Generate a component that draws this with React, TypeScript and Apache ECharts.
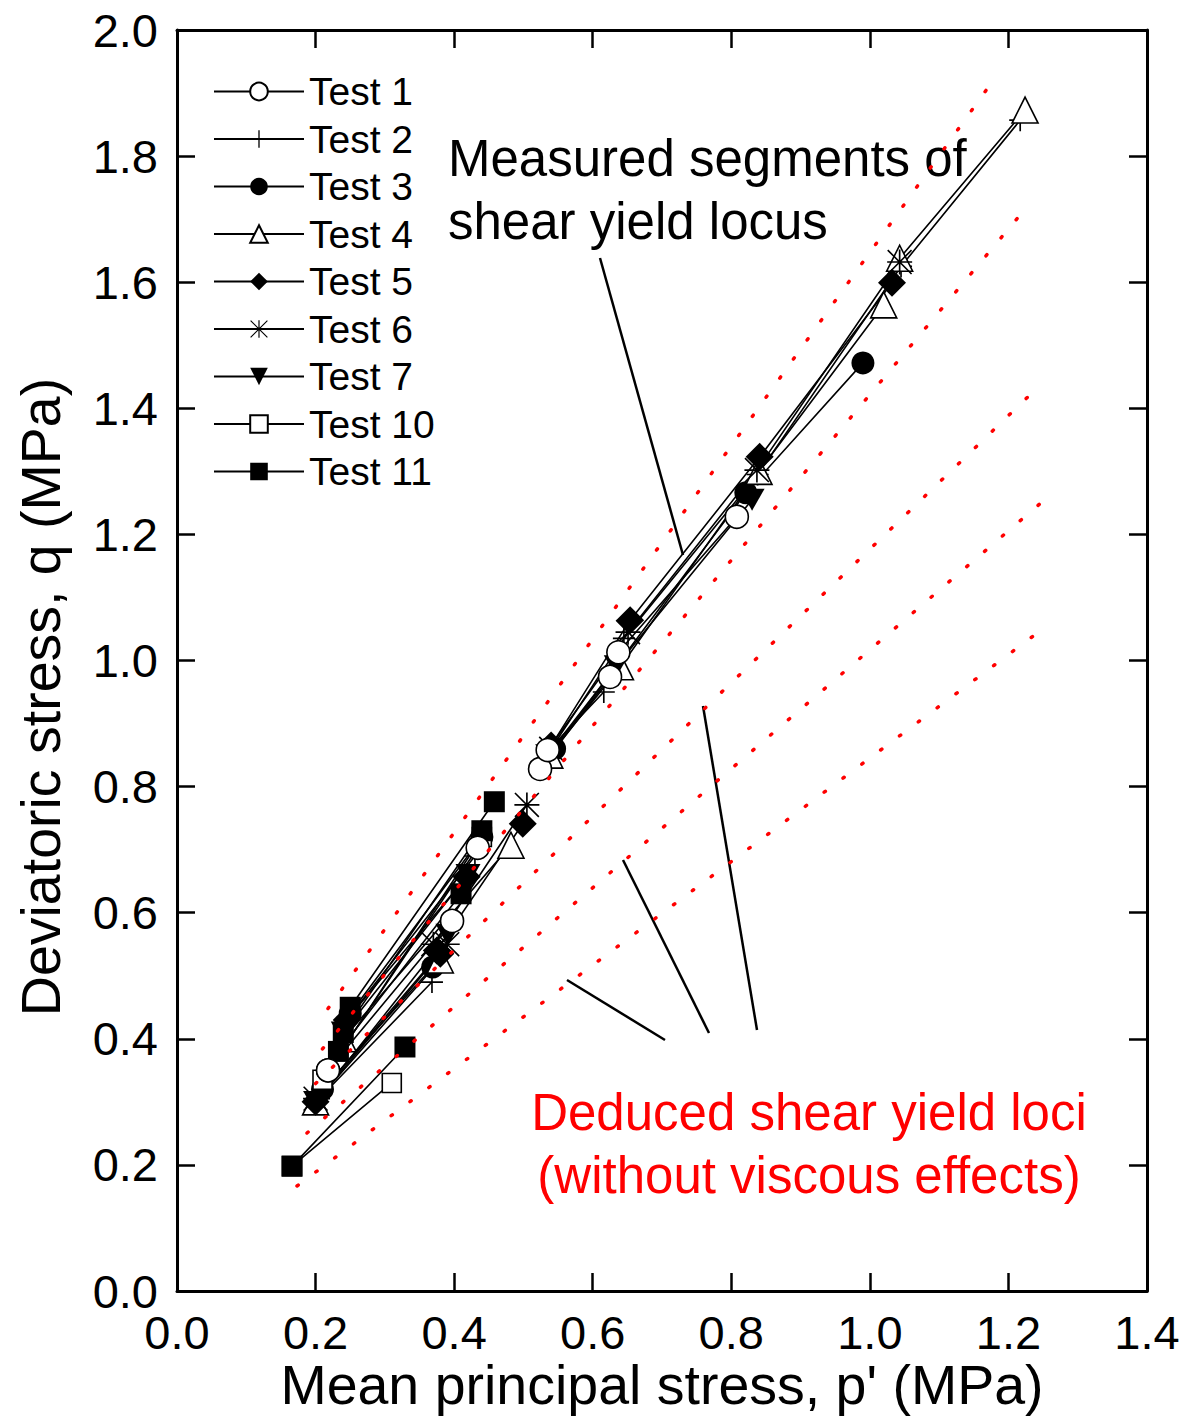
import React, { useEffect, useRef } from "react";
import * as echarts from "echarts";

// ---------- data ----------
const testNames = ["Test 1", "Test 2", "Test 3", "Test 4", "Test 5", "Test 6", "Test 7", "Test 10", "Test 11"];

// each test: list of measured segments, each segment = list of [p', q] points (MPa)
const test1 = [
  [[0.218, 0.350], [0.397, 0.587]],
  [[0.218, 0.350], [0.434, 0.703]],
  [[0.524, 0.828], [0.625, 0.974]],
  [[0.535, 0.858], [0.637, 1.013], [0.808, 1.228]],
];
const test2 = [
  [[0.205, 0.305], [0.368, 0.490]],
  [[0.245, 0.430], [0.430, 0.690]],
  [[0.534, 0.855], [0.616, 0.950]],
  [[0.645, 1.035], [0.838, 1.295], [1.045, 1.625], [1.217, 1.857]],
];
const test3 = [
  [[0.210, 0.320], [0.369, 0.514]],
  [[0.250, 0.440], [0.440, 0.720]],
  [[0.545, 0.860], [0.821, 1.266], [0.990, 1.472]],
];
const test4 = [
  [[0.200, 0.300], [0.380, 0.525]],
  [[0.240, 0.400], [0.482, 0.707]],
  [[0.538, 0.850], [0.640, 0.990], [0.840, 1.300], [1.020, 1.564]],
  [[1.043, 1.638], [1.224, 1.873]],
];
const test5 = [
  [[0.200, 0.300], [0.380, 0.535]],
  [[0.245, 0.430], [0.418, 0.657]],
  [[0.375, 0.540], [0.499, 0.741]],
  [[0.540, 0.865], [0.654, 1.064], [0.841, 1.323], [1.032, 1.599]],
];
const test6 = [
  [[0.200, 0.305], [0.390, 0.550]],
  [[0.370, 0.550], [0.505, 0.771]],
  [[0.540, 0.860], [0.651, 1.045], [0.837, 1.302], [1.043, 1.632]],
];
const test7 = [
  [[0.200, 0.300], [0.391, 0.565]],
  [[0.240, 0.410], [0.420, 0.660]],
  [[0.535, 0.850], [0.634, 0.991], [0.830, 1.255]],
];
const test10 = [
  [[0.166, 0.198], [0.310, 0.330]],
  [[0.210, 0.335], [0.440, 0.720]],
];
const test11 = [
  [[0.166, 0.198], [0.329, 0.387]],
  [[0.233, 0.380], [0.410, 0.630]],
  [[0.240, 0.410], [0.440, 0.730]],
  [[0.250, 0.450], [0.458, 0.776]],
];

// deduced shear yield loci (without viscous effects): start / end points
const locus1 = [[0.218, 0.448], [1.1805, 1.924]];
const locus2 = [[0.210, 0.384], [1.2253, 1.7177]];
const locus3 = [[0.200, 0.329], [1.2383, 1.429]];
const locus4 = [[0.1876, 0.2506], [1.2585, 1.2609]];
const locus5 = [[0.1732, 0.1665], [1.2455, 1.0468]];

const xTickLabels = ["0.0", "0.2", "0.4", "0.6", "0.8", "1.0", "1.2", "1.4"];
const yTickLabels = ["0.0", "0.2", "0.4", "0.6", "0.8", "1.0", "1.2", "1.4", "1.6", "1.8", "2.0"];

// ---------- styles ----------
const FONT = "'Liberation Sans', Arial, Helvetica, sans-serif";
const PLUS = "path://M11.1,0H12.9V24H11.1Z M0,11.1H24V12.9H0Z";
const STAR =
  "path://M11.2,0H12.8V24H11.2Z M0,11.2H24V12.8H0Z M1.1,0L24,22.9L22.9,24L0,1.1Z M22.9,0L24,1.1L1.1,24L0,22.9Z";
const DOWN = "path://M0,0L24,0L12,21Z";

const styleOf: Record<string, { symbol: string; size: number; fill: string; border: number; z: number }> = {
  "Test 1": { symbol: "circle", size: 23, fill: "#ffffff", border: 1.6, z: 4 },
  "Test 2": { symbol: PLUS, size: 22, fill: "#000000", border: 0, z: 3 },
  "Test 3": { symbol: "circle", size: 23, fill: "#000000", border: 0, z: 3 },
  "Test 4": { symbol: "triangle", size: 26, fill: "#ffffff", border: 1.6, z: 3 },
  "Test 5": { symbol: "diamond", size: 28, fill: "#000000", border: 0, z: 3 },
  "Test 6": { symbol: STAR, size: 25, fill: "#000000", border: 0, z: 3 },
  "Test 7": { symbol: DOWN, size: 25, fill: "#000000", border: 0, z: 3 },
  "Test 10": { symbol: "rect", size: 19, fill: "#ffffff", border: 1.6, z: 3 },
  "Test 11": { symbol: "rect", size: 21, fill: "#000000", border: 0, z: 3 },
};

const testData: Record<string, number[][][]> = {
  "Test 1": test1,
  "Test 2": test2,
  "Test 3": test3,
  "Test 4": test4,
  "Test 5": test5,
  "Test 6": test6,
  "Test 7": test7,
  "Test 10": test10,
  "Test 11": test11,
};

function flatten(segs: number[][][]) {
  const out: any[] = [];
  segs.forEach((s, i) => {
    if (i > 0) out.push(["-", "-"]);
    s.forEach((pt) => out.push(pt));
  });
  return out;
}

export default function App() {
  const ref = useRef<HTMLDivElement>(null);
  useEffect(() => {
    document.body.style.margin = "0";
    if (!ref.current) return;
    const chart = echarts.init(ref.current, null, { renderer: "svg" });

    const testSeries = testNames.map((name) => {
      const st = styleOf[name];
      return {
        name,
        type: "line",
        data: flatten(testData[name]),
        symbol: st.symbol,
        symbolSize: st.size,
        symbolKeepAspect: true,
        showAllSymbol: true,
        connectNulls: false,
        itemStyle: { color: st.fill, borderColor: "#000", borderWidth: st.border, opacity: 1 },
        lineStyle: { color: "#000", width: 1.6 },
        emphasis: { disabled: true },
        z: st.z,
      };
    });

    const loci = [locus1, locus2, locus3, locus4, locus5].map((d, i) => ({
      name: "locus" + (i + 1),
      type: "line",
      data: d,
      symbol: "none",
      silent: true,
      lineStyle: { color: "#ff0000", width: 3.5, type: [1.5, 22], cap: "round" },
      z: 5,
    }));

    const axisCommon = {
      type: "value",
      axisLine: { show: true, onZero: false, lineStyle: { color: "#000", width: 3 } },
      axisTick: { show: true, inside: true, length: 18, lineStyle: { color: "#000", width: 2.5 } },
      splitLine: { show: false },
      minorTick: { show: false },
    };

    chart.setOption({
      animation: false,
      backgroundColor: "#ffffff",
      textStyle: { fontFamily: FONT },
      grid: { left: 177, top: 30, right: 56, bottom: 125, containLabel: false },
      xAxis: [
        {
          ...axisCommon,
          position: "bottom",
          min: 0,
          max: 1.4,
          interval: 0.2,
          axisLabel: {
            fontSize: 47,
            color: "#000",
            fontFamily: FONT,
            margin: 18,
            formatter: (v: number) => xTickLabels[Math.round(v / 0.2)] ?? "",
          },
        },
        {
          ...axisCommon,
          position: "top",
          min: 0,
          max: 1.4,
          interval: 0.2,
          axisLabel: { show: false },
        },
      ],
      yAxis: [
        {
          ...axisCommon,
          position: "left",
          min: 0,
          max: 2.0,
          interval: 0.2,
          axisLabel: {
            fontSize: 47,
            color: "#000",
            fontFamily: FONT,
            margin: 19,
            formatter: (v: number) => yTickLabels[Math.round(v / 0.2)] ?? "",
          },
        },
        {
          ...axisCommon,
          position: "right",
          min: 0,
          max: 2.0,
          interval: 0.2,
          axisLabel: { show: false },
        },
      ],
      legend: {
        data: testNames,
        orient: "vertical",
        left: 213,
        top: 72,
        padding: 0,
        itemWidth: 90,
        itemHeight: 22,
        itemGap: 8.5,
        selectedMode: false,
        textStyle: { fontSize: 39, color: "#000", fontFamily: FONT },
      },
      series: [...testSeries, ...loci],
      graphic: [
        {
          type: "text",
          x: 448,
          y: 158,
          style: { text: "Measured segments of", fontSize: 51, fontFamily: FONT, fill: "#000", textAlign: "left", textVerticalAlign: "middle" },
        },
        {
          type: "text",
          x: 448,
          y: 221,
          style: { text: "shear yield locus", fontSize: 51, fontFamily: FONT, fill: "#000", textAlign: "left", textVerticalAlign: "middle" },
        },
        {
          type: "text",
          x: 809,
          y: 1112,
          style: { text: "Deduced shear yield loci", fontSize: 51, fontFamily: FONT, fill: "#ff0000", textAlign: "center", textVerticalAlign: "middle" },
        },
        {
          type: "text",
          x: 809,
          y: 1175,
          style: { text: "(without viscous effects)", fontSize: 51, fontFamily: FONT, fill: "#ff0000", textAlign: "center", textVerticalAlign: "middle" },
        },
        {
          type: "text",
          x: 662,
          y: 1385,
          style: { text: "Mean principal stress, p' (MPa)", fontSize: 55.5, fontFamily: FONT, fill: "#000", textAlign: "center", textVerticalAlign: "middle" },
        },
        {
          type: "text",
          x: 41,
          y: 697,
          rotation: Math.PI / 2,
          style: { text: "Deviatoric stress, q (MPa)", fontSize: 55.5, fontFamily: FONT, fill: "#000", textAlign: "center", textVerticalAlign: "middle" },
        },
        { type: "line", shape: { x1: 600, y1: 258, x2: 683, y2: 555 }, style: { stroke: "#000", lineWidth: 2.5 } },
        { type: "line", shape: { x1: 567, y1: 980, x2: 665, y2: 1040 }, style: { stroke: "#000", lineWidth: 2.5 } },
        { type: "line", shape: { x1: 623, y1: 860, x2: 709, y2: 1033 }, style: { stroke: "#000", lineWidth: 2.5 } },
        { type: "line", shape: { x1: 703, y1: 706, x2: 757, y2: 1030 }, style: { stroke: "#000", lineWidth: 2.5 } },
      ],
    });

    return () => chart.dispose();
  }, []);

  return <div ref={ref} style={{ width: 1203, height: 1416 }} />;
}
